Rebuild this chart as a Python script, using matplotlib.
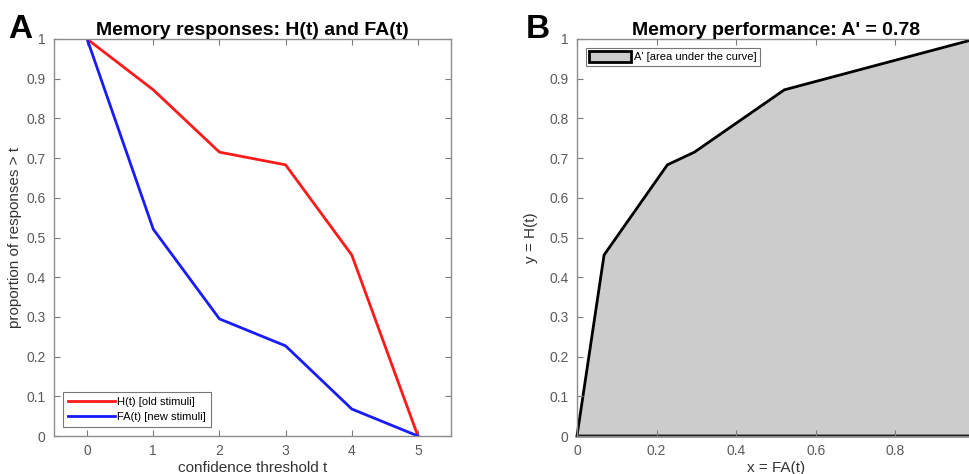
import matplotlib.pyplot as plt
import numpy as np

plt.rcParams['font.family'] = ['Liberation Sans', 'DejaVu Sans']

thresholds = [0, 1, 2, 3, 4, 5]
hits = [1.0, 0.872, 0.715, 0.683, 0.456, 0.0]
false_alarms = [1.0, 0.521, 0.295, 0.227, 0.068, 0.0]

roc_x = [0.0, 0.068, 0.227, 0.295, 0.521, 1.0]
roc_y = [0.0, 0.456, 0.683, 0.715, 0.872, 1.0]

tick_gray = '#5a5a5a'
W, H = 969, 474
fig = plt.figure(figsize=(W / 100, H / 100), dpi=100)


def style_axes(ax):
    for s in ax.spines.values():
        s.set_color('#8c8c8c')
        s.set_linewidth(1.0)
    ax.tick_params(direction='in', length=4, width=0.8, color='#7a7a7a',
                   labelcolor=tick_gray, labelsize=10, top=True, right=True, pad=6)


# panel A
axA = fig.add_axes([54 / W, 1 - 436 / H, (451 - 54) / W, (436 - 39) / H])
axA.plot(thresholds, hits, color='#ff1a1a', lw=2, label='H(t) [old stimuli]')
axA.plot(thresholds, false_alarms, color='#1a1aff', lw=2, label='FA(t) [new stimuli]')
axA.set_xlim(-0.5, 5.5)
axA.set_ylim(0, 1)
axA.set_xticks(thresholds)
axA.set_yticks(np.arange(0, 1.01, 0.1))
axA.set_yticklabels(['0', '0.1', '0.2', '0.3', '0.4', '0.5', '0.6', '0.7', '0.8', '0.9', '1'])
style_axes(axA)
axA.set_xlabel('confidence threshold t', fontsize=11, color='#333333', labelpad=2)
axA.set_ylabel('proportion of responses > t', fontsize=11, color='#333333', labelpad=3)
axA.set_title('Memory responses: H(t) and FA(t)', fontsize=14, fontweight='bold', pad=3)
leg = axA.legend(loc='lower left', fontsize=8, frameon=True, fancybox=False,
                 handlelength=4.2, borderaxespad=0.8, borderpad=0.45, labelspacing=0.45,
                 handletextpad=0.2)
leg.get_frame().set_edgecolor('#555555')
leg.get_frame().set_linewidth(0.8)
fig.text(8 / W, 1 - 38 / H, 'A', fontsize=24, fontweight='bold')

# panel B
axB = fig.add_axes([577 / W, 1 - 436 / H, (975 - 577) / W, (436 - 39) / H])
axB.fill(roc_x + [1.0], roc_y + [0.0], facecolor='#cccccc', edgecolor='black', lw=2,
         label="A' [area under the curve]", clip_on=False)
axB.set_xlim(0, 1)
axB.set_ylim(0, 1)
axB.set_xticks([0, 0.2, 0.4, 0.6, 0.8, 1.0])
axB.set_xticklabels(['0', '0.2', '0.4', '0.6', '0.8', ''])
axB.set_yticks(np.arange(0, 1.01, 0.1))
axB.set_yticklabels(['0', '0.1', '0.2', '0.3', '0.4', '0.5', '0.6', '0.7', '0.8', '0.9', '1'])
style_axes(axB)
axB.set_xlabel('x = FA(t)', fontsize=11, color='#333333', labelpad=2)
axB.set_ylabel('y = H(t)', fontsize=11, color='#333333', labelpad=8)
area = np.trapezoid(roc_y, roc_x)
axB.set_title("Memory performance: A' = %.2f" % area, fontsize=14, fontweight='bold', pad=3)
legB = axB.legend(loc='upper left', fontsize=8, frameon=True, fancybox=False,
                  handlelength=3.8, handleheight=1.1, borderaxespad=0.8, borderpad=0.3,
                  handletextpad=0.2)
legB.get_frame().set_edgecolor('#555555')
legB.get_frame().set_linewidth(0.8)
fig.text(526 / W, 1 - 38 / H, 'B', fontsize=24, fontweight='bold')

fig.savefig('out.png', dpi=100)
